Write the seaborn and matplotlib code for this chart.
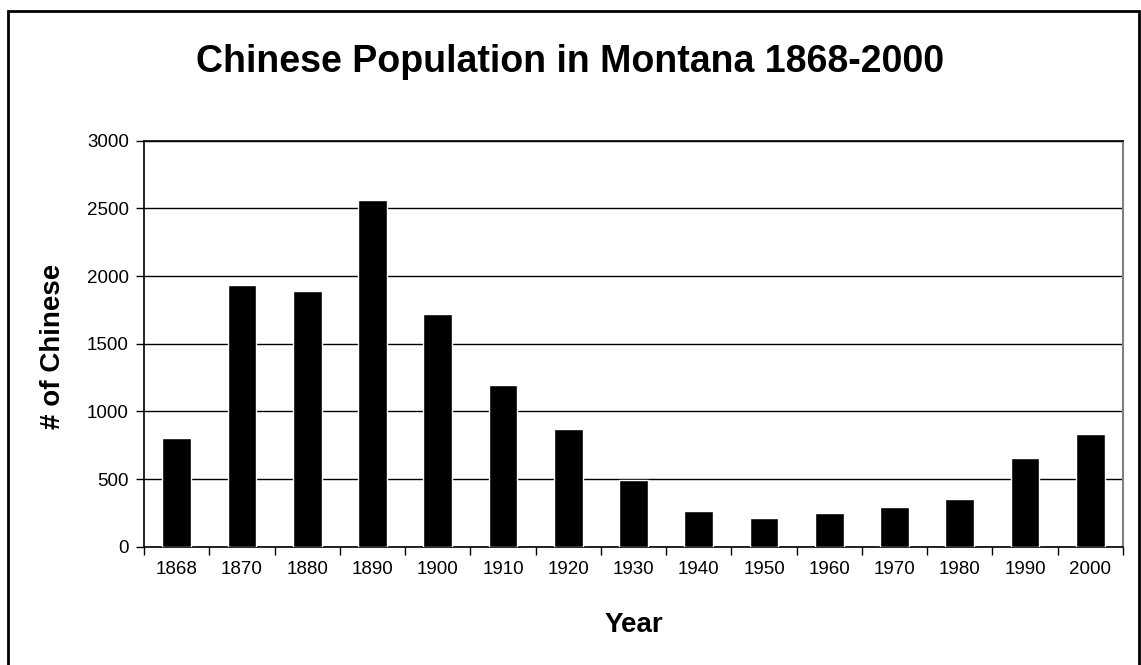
import numpy as np
import pandas as pd
import matplotlib
matplotlib.use('Agg')
import matplotlib.pyplot as plt
from matplotlib.patches import Rectangle
import seaborn as sns

# dados
anos = ['1868', '1870', '1880', '1890', '1900', '1910', '1920', '1930',
        '1940', '1950', '1960', '1970', '1980', '1990', '2000']
chineses = [803, 1932, 1893, 2565, 1719, 1193, 869, 491,
            265, 211, 250, 290, 356, 653, 830]
y_ticks = [0, 500, 1000, 1500, 2000, 2500, 3000]

df = pd.DataFrame({'Year': anos, 'Chinese': chineses})

sns.set_style('white')
plt.rcParams['font.family'] = ['Liberation Sans', 'DejaVu Sans']
plt.rcParams['text.color'] = 'black'
plt.rcParams['xtick.color'] = 'black'
plt.rcParams['ytick.color'] = 'black'

fig = plt.figure(figsize=(11.41, 6.65), dpi=100)
ax = fig.add_axes([144 / 1141, 1 - 546.7 / 665, (1123 - 144) / 1141, (546.7 - 140.7) / 665])

sns.barplot(data=df, x='Year', y='Chinese', color='black', saturation=1,
            width=0.44, ax=ax, zorder=3)

ax.set_xlim(-0.5, len(anos) - 0.5)
ax.set_ylim(0, 3000)
ax.set_yticks(y_ticks)
ax.set_yticklabels([str(v) for v in y_ticks], fontsize=13.5)
ax.yaxis.grid(True, color='black', linewidth=1, zorder=0)

# ticks entre categorias, rotulos no centro
ax.set_xticks(np.arange(-0.5, len(anos), 1))
ax.set_xticklabels([])
ax.set_xticks(np.arange(len(anos)), minor=True)
ax.set_xticklabels(anos, minor=True, fontsize=13.5)
ax.tick_params(axis='x', which='major', bottom=True, direction='out',
               length=6, width=1, color='black')
ax.tick_params(axis='x', which='minor', bottom=True, length=0, pad=10)
ax.tick_params(axis='y', left=True, direction='out', length=6, width=1,
               color='black', pad=5)
ax.tick_params(axis='both', which='both', labelcolor='black')

ax.set_xlabel('')
ax.set_ylabel('')
for lado in ['left', 'bottom', 'top']:
    ax.spines[lado].set_color('black')
    ax.spines[lado].set_linewidth(1.2)
ax.spines['right'].set_color('#808080')
ax.spines['right'].set_linewidth(1.5)

fig.text(0.5, 1 - 72 / 665, 'Chinese Population in Montana 1868-2000',
         ha='center', va='baseline', fontsize=27, fontweight='bold', color='black')
fig.text(633.5 / 1141, 1 - 632 / 665, 'Year', ha='center', va='baseline',
         fontsize=20, fontweight='bold', color='black')
fig.text(53 / 1141, 1 - 346 / 665, '# of Chinese', ha='center', va='center',
         rotation=90, fontsize=20, fontweight='bold', color='black')

# moldura externa
fig.patches.append(Rectangle((8 / 1141, -0.05), (1139 - 8) / 1141, 1.05 - 11 / 665,
                             transform=fig.transFigure, fill=False,
                             edgecolor='black', linewidth=2))

fig.savefig('out.png', dpi=100)
